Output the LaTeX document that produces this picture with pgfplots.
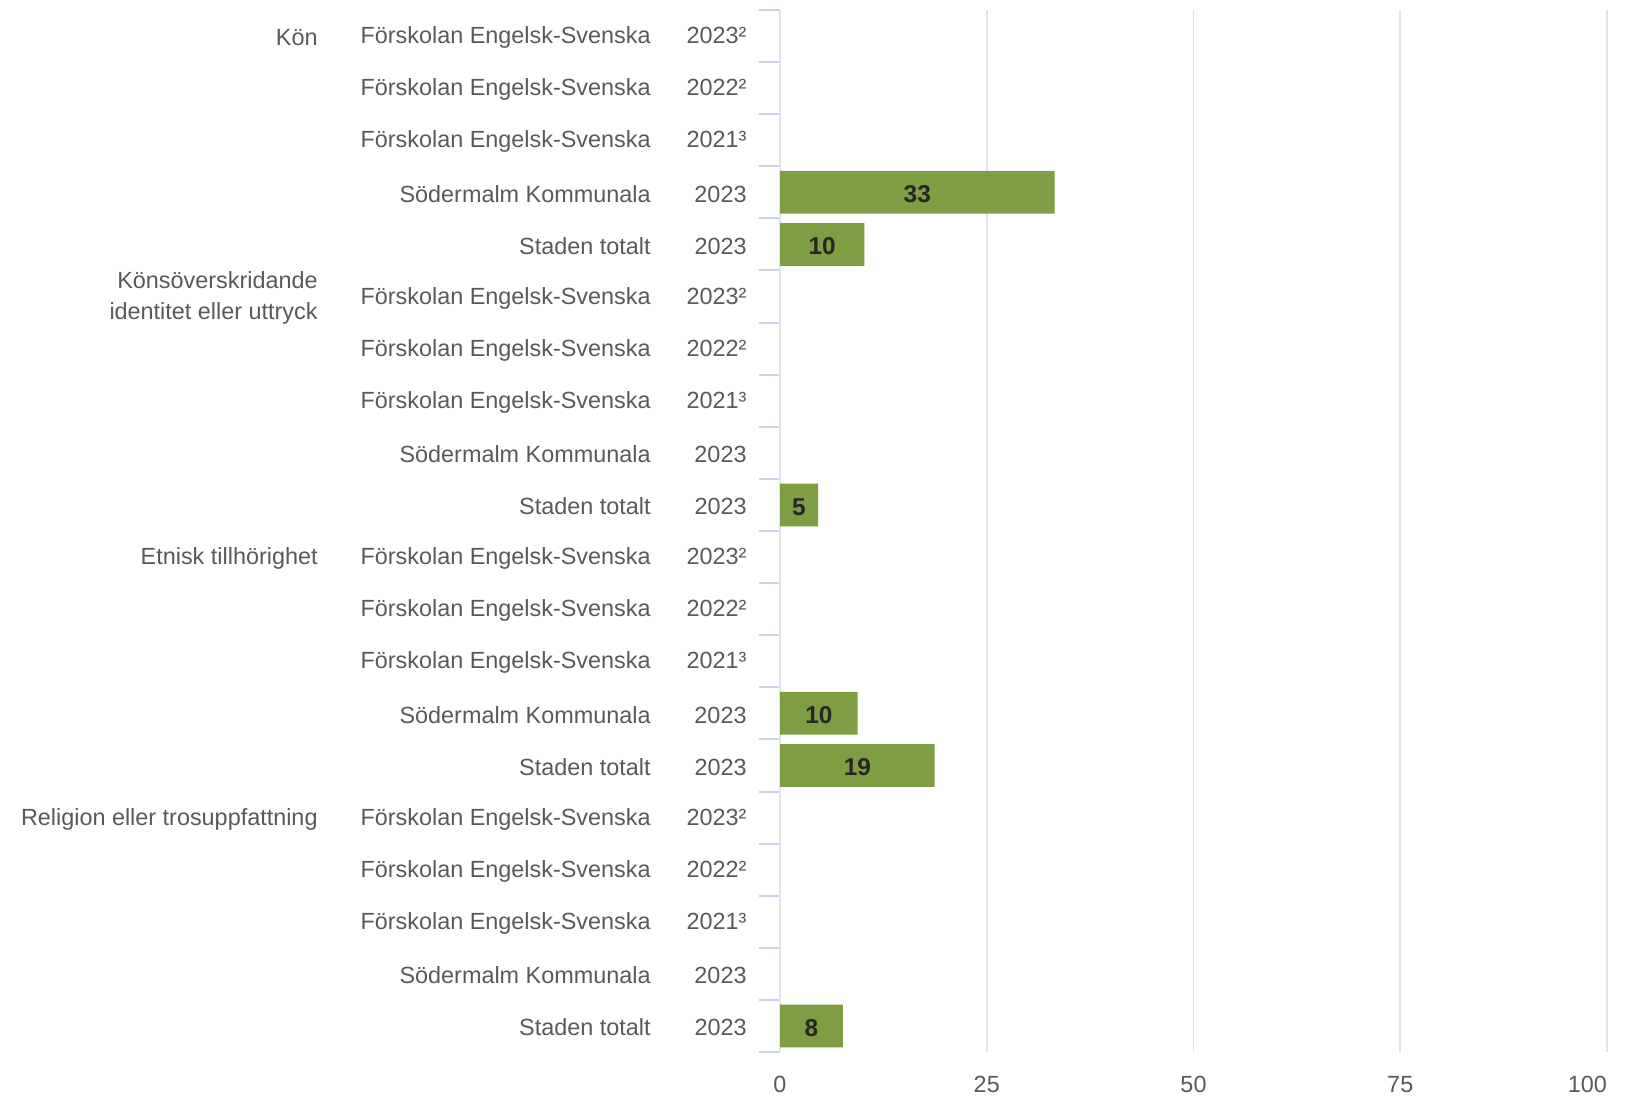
\documentclass[border=0pt]{standalone}
\usepackage{pgfplots}
\usepackage{pgfplotstable}
\pgfplotsset{compat=1.18}
\usepackage{fontspec}
\setmainfont{Liberation Sans}
\definecolor{bargreen}{HTML}{7F9D42}
\definecolor{txtgray}{HTML}{595959}
\definecolor{gridgray}{HTML}{E3E3E6}
\definecolor{tickblue}{HTML}{C8D2EA}
\definecolor{lblcol}{HTML}{262626}
\newcommand{\lab}[2]{\makebox[0pt][r]{#1}\makebox[48pt][r]{#2}}
\newcommand{\fs}{\fontsize{11.7}{15.5}\selectfont}
\pgfplotstableread{
row val lab
3 33.2 33
4 10.2 10
9 4.6 5
13 9.4 10
14 18.7 19
19 7.6 8
}\datatable
\begin{document}
\begin{tikzpicture}
\path[use as bounding box] (0,0) rectangle (813pt,548pt);
\begin{axis}[
  at={(390pt,22pt)}, anchor=south west,
  scale only axis, width=413.5pt, height=521pt,
  xmin=0, xmax=100, ymin=-0.5, ymax=19.5,
  y dir=reverse, clip=false,
  xtick={0,25,50,75,100},
  xticklabels={0,25,50,75,\makebox[0pt][r]{100}},
  ytick={0,...,19},
  minor ytick={-0.5,0.5,...,19.5},
  yticklabels={
    \lab{Förskolan Engelsk-Svenska}{2023²},
    \lab{Förskolan Engelsk-Svenska}{2022²},
    \lab{Förskolan Engelsk-Svenska}{2021³},
    \lab{Södermalm Kommunala}{2023},
    \lab{Staden totalt}{2023},
    \lab{Förskolan Engelsk-Svenska}{2023²},
    \lab{Förskolan Engelsk-Svenska}{2022²},
    \lab{Förskolan Engelsk-Svenska}{2021³},
    \lab{Södermalm Kommunala}{2023},
    \lab{Staden totalt}{2023},
    \lab{Förskolan Engelsk-Svenska}{2023²},
    \lab{Förskolan Engelsk-Svenska}{2022²},
    \lab{Förskolan Engelsk-Svenska}{2021³},
    \lab{Södermalm Kommunala}{2023},
    \lab{Staden totalt}{2023},
    \lab{Förskolan Engelsk-Svenska}{2023²},
    \lab{Förskolan Engelsk-Svenska}{2022²},
    \lab{Förskolan Engelsk-Svenska}{2021³},
    \lab{Södermalm Kommunala}{2023},
    \lab{Staden totalt}{2023}},
  major tick length=0pt, minor tick length=10.5pt,
  tick align=outside,
  y tick style={color=tickblue, line width=1pt},
  separate axis lines,
  axis x line*=bottom, axis y line*=left,
  x axis line style={draw=none},
  y axis line style={draw=gridgray, line width=1pt, -},
  xmajorgrids, grid style={color=gridgray, line width=0.9pt},
  /pgf/number format/assume math mode=true,
  tick label style={font=\fs, text=txtgray},
  yticklabel style={inner sep=0pt, xshift=-16.5pt, yshift=-0.8pt},
  xticklabel style={inner sep=0pt, yshift=-12pt},
]
\addplot[xbar, fill=bargreen, draw=none, bar width=0.82, bar shift=0pt] table[x=val, y=row] {\datatable};
\addplot[only marks, mark=none, point meta=explicit symbolic, nodes near coords,
  nodes near coords style={anchor=center, yshift=-1pt, font=\fontsize{12.2}{14}\selectfont\bfseries, text=lblcol}]
  table[x expr=\thisrow{val}/2, y=row, meta=lab] {\datatable};
\begin{scope}[every node/.style={anchor=east, align=right, font=\fs, text=txtgray, inner sep=0pt, xshift=-231pt, yshift=-0.8pt}]
\node at (axis cs:0,0) {Kön};
\node at (axis cs:0,5) {Könsöverskridande\\identitet eller uttryck};
\node at (axis cs:0,10) {Etnisk tillhörighet};
\node at (axis cs:0,15) {Religion eller trosuppfattning};
\end{scope}
\end{axis}
\end{tikzpicture}
\end{document}
